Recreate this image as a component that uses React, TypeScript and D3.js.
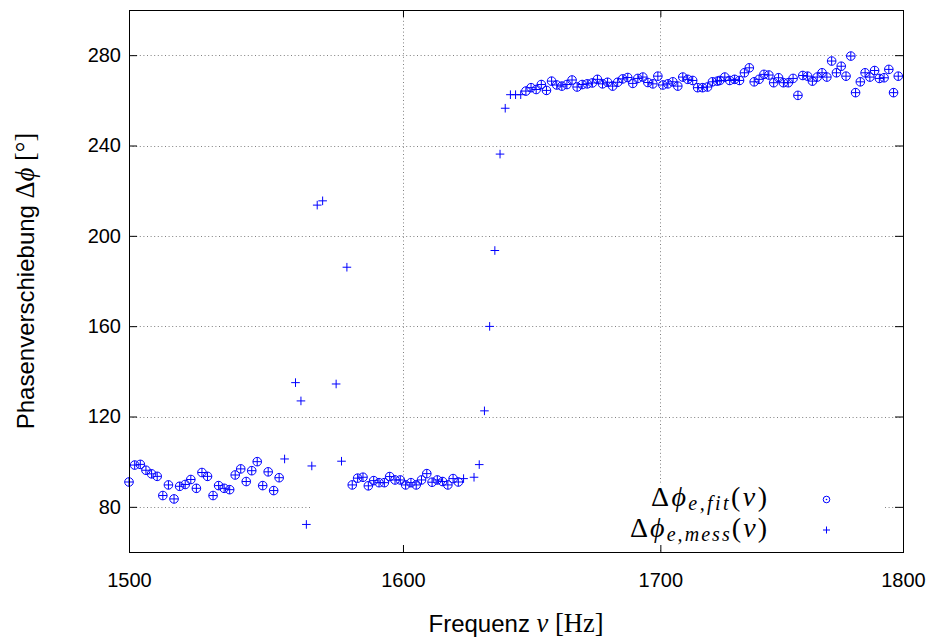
import React, { useEffect, useRef } from "react";
import * as d3 from "d3";

const W = 931;
const H = 641;
const plotLeft = 129;
const plotRight = 903;
const plotTop = 10;
const plotBottom = 552;

const xDomain = [1500, 1800];
const yDomain = [60, 300];
const xTicks = [1500, 1600, 1700, 1800];
const yTicks = [80, 120, 160, 200, 240, 280];

// 1500-1554 Hz: fit + measurement
const lowFreq = [1500, 1502, 1504, 1506, 1508, 1510, 1512, 1514, 1516, 1518, 1520, 1522, 1524, 1526,
  1528, 1530, 1532, 1534, 1536, 1538, 1540, 1542, 1544, 1546, 1548, 1550, 1552, 1554];
const lowPhase = [91.0, 98.5, 98.8, 96.2, 94.6, 93.5, 85.0, 89.7, 83.5, 89.1, 89.9, 92.1, 88.2, 95.2,
  93.5, 85.0, 89.4, 88.2, 87.6, 94.1, 96.8, 91.2, 96.0, 100.0, 89.4, 95.5, 87.2, 92.9];

// measurement only (resonance region, scattered)
const gapFreq = [1556, 1560, 1562, 1564, 1566, 1568, 1570, 1575, 1577, 1579];
const gapPhase = [101.2, 135.0, 126.9, 72.2, 98.1, 213.6, 215.5, 134.4, 100.2, 186.1];

// 1581-1621 Hz: fit + measurement
const midFreq = [1581, 1583, 1585, 1587, 1589, 1591, 1593, 1595, 1597, 1599, 1601, 1603, 1605, 1607,
  1609, 1611, 1613, 1615, 1617, 1619, 1621];
const midPhase = [89.7, 92.7, 93.1, 89.3, 91.6, 90.7, 90.7, 93.4, 91.9, 91.9, 89.7, 90.7, 89.7, 91.9,
  94.7, 90.9, 91.9, 91.2, 89.7, 92.5, 91.0];

// measurement only (phase jump)
const riseFreq = [1623, 1627, 1629, 1631, 1633, 1635, 1637, 1639, 1641, 1643, 1645];
const risePhase = [92.5, 93.1, 98.7, 122.5, 159.9, 193.5, 236.2, 256.5, 262.5, 262.5, 262.5];

// 1647-1798 Hz: fit + measurement
const highFreq = [1647, 1649, 1651, 1653, 1655, 1657, 1659, 1661, 1663, 1665, 1667, 1669, 1671, 1673,
  1675, 1677, 1679, 1681, 1683, 1685, 1687, 1689, 1691, 1693, 1695, 1697, 1699, 1701, 1703, 1705,
  1707, 1709, 1711, 1713, 1715, 1717, 1719, 1721, 1723, 1724, 1726, 1728, 1730, 1732, 1734, 1736,
  1738, 1740, 1742, 1744, 1746, 1748, 1750, 1752, 1754, 1756, 1758, 1760, 1762, 1764, 1766, 1768,
  1770, 1772, 1774, 1776, 1778, 1780, 1782, 1784, 1786, 1788, 1790, 1792, 1794, 1796, 1798];
const highPhase = [264.1, 265.6, 264.8, 267.0, 264.4, 268.5, 266.8, 266.3, 267.0, 269.0, 265.9, 267.0,
  267.3, 267.7, 269.3, 267.3, 268.0, 266.3, 268.0, 269.5, 270.1, 267.5, 269.7, 270.3, 267.9, 267.3,
  270.7, 266.8, 267.3, 268.2, 266.3, 270.3, 269.3, 268.8, 265.6, 265.6, 265.9, 268.2, 268.5, 268.8,
  270.3, 268.8, 269.3, 268.8, 272.2, 274.4, 268.2, 269.3, 271.5, 271.2, 267.8, 270.0, 267.8, 267.8,
  269.7, 262.2, 271.0, 270.7, 268.5, 270.3, 272.2, 270.3, 277.4, 272.2, 275.1, 270.7, 279.6, 263.4,
  268.2, 272.2, 270.3, 273.2, 269.7, 270.0, 273.7, 263.4, 270.7];

const blue = "#0000ff";
const sans = "'Liberation Sans', Arial, sans-serif";
const serif = "'Liberation Serif', 'DejaVu Serif', serif";

export default function App() {
  const ref = useRef<SVGSVGElement>(null);

  useEffect(() => {
    const svg = d3.select(ref.current);
    svg.selectAll("*").remove();

    const x = d3.scaleLog().domain(xDomain).range([plotLeft, plotRight]);
    const y = d3.scaleLinear().domain(yDomain).range([plotBottom, plotTop]);

    const messFreq = [...lowFreq, ...gapFreq, ...midFreq, ...riseFreq, ...highFreq];
    const messPhase = [...lowPhase, ...gapPhase, ...midPhase, ...risePhase, ...highPhase];
    const fitFreq = [...lowFreq, ...midFreq, ...highFreq];
    const fitPhase = [...lowPhase, ...midPhase, ...highPhase];
    const mess = messFreq.map((f, i) => [f, messPhase[i]]);
    const fit = fitFreq.map((f, i) => [f, fitPhase[i]]);

    // grid
    const grid = svg.append("g")
      .attr("stroke", "#808080")
      .attr("stroke-width", 1)
      .attr("stroke-dasharray", "1,2.6");
    grid.selectAll("line.h").data(yTicks).join("line")
      .attr("x1", plotLeft).attr("x2", plotRight)
      .attr("y1", d => Math.round(y(d)) + 0.5).attr("y2", d => Math.round(y(d)) + 0.5);
    grid.selectAll("line.v").data(xTicks.slice(1, -1)).join("line")
      .attr("y1", plotTop).attr("y2", plotBottom)
      .attr("x1", d => Math.round(x(d)) + 0.5).attr("x2", d => Math.round(x(d)) + 0.5);

    // opaque key box
    svg.append("rect")
      .attr("x", 311).attr("y", 484).attr("width", 574).attr("height", 66)
      .attr("fill", "white");

    // points
    svg.append("g").selectAll("circle").data(fit).join("circle")
      .attr("cx", d => x(d[0])).attr("cy", d => y(d[1]))
      .attr("r", 4.3)
      .attr("fill", "none").attr("stroke", blue).attr("stroke-width", 1);
    svg.append("g").selectAll("path").data(mess).join("path")
      .attr("d", d => `M${x(d[0]) - 4.3},${y(d[1])}h8.6M${x(d[0])},${y(d[1]) - 4.3}v8.6`)
      .attr("stroke", blue).attr("stroke-width", 1);

    // axes with inward ticks on all four sides
    const styleAxis = (g: any) => {
      g.select(".domain").remove();
      g.selectAll("line").attr("stroke", "black");
      g.selectAll("text").attr("font-family", sans).attr("font-size", 20).attr("fill", "black");
    };
    svg.append("g").attr("transform", `translate(0,${plotBottom})`)
      .call(d3.axisBottom(x).tickValues(xTicks).tickFormat(d3.format("d"))
        .tickSizeInner(-7).tickSizeOuter(0).tickPadding(21))
      .call(styleAxis);
    svg.append("g").attr("transform", `translate(0,${plotTop})`)
      .call(d3.axisTop(x).tickValues(xTicks).tickFormat(() => "")
        .tickSizeInner(-7).tickSizeOuter(0))
      .call(styleAxis);
    svg.append("g").attr("transform", `translate(${plotLeft},0)`)
      .call(d3.axisLeft(y).tickValues(yTicks).tickSizeInner(-8).tickSizeOuter(0).tickPadding(8))
      .call(styleAxis);
    svg.append("g").attr("transform", `translate(${plotRight},0)`)
      .call(d3.axisRight(y).tickValues(yTicks).tickFormat(() => "")
        .tickSizeInner(-8).tickSizeOuter(0))
      .call(styleAxis);

    svg.append("rect")
      .attr("x", plotLeft + 0.5).attr("y", plotTop + 0.5)
      .attr("width", plotRight - plotLeft).attr("height", plotBottom - plotTop)
      .attr("fill", "none").attr("stroke", "black").attr("stroke-width", 1);

    // legend
    const legend = [
      { sub: "e,fit", x: 651, y: 506, len: 116 },
      { sub: "e,mess", x: 630, y: 537, len: 137 },
    ];
    legend.forEach((l, i) => {
      const t = svg.append("text")
        .attr("x", l.x).attr("y", l.y)
        .attr("font-family", serif).attr("font-size", 28)
        .attr("textLength", l.len).attr("lengthAdjust", "spacing");
      t.append("tspan").text("Δ");
      t.append("tspan").attr("font-style", "italic").text("ϕ");
      t.append("tspan").attr("font-style", "italic").attr("font-size", 20).attr("dy", 4).text(l.sub);
      t.append("tspan").attr("dy", -4).text("(");
      t.append("tspan").attr("font-style", "italic").text("ν");
      t.append("tspan").text(")");
      if (i === 0) {
        svg.append("circle").attr("cx", 826.5).attr("cy", l.y - 6.5).attr("r", 3.3)
          .attr("fill", "none").attr("stroke", blue).attr("stroke-width", 1);
        svg.append("circle").attr("cx", 826.5).attr("cy", l.y - 6.5).attr("r", 0.8).attr("fill", blue);
      } else {
        svg.append("path")
          .attr("d", `M823,${l.y - 7}h7M826.5,${l.y - 10.5}v7`)
          .attr("stroke", blue).attr("stroke-width", 1);
      }
    });

    // axis labels
    const yl = svg.append("text")
      .attr("transform", `translate(34,${(plotTop + plotBottom) / 2}) rotate(-90)`)
      .attr("text-anchor", "middle").attr("font-family", sans).attr("font-size", 24);
    yl.append("tspan").text("Phasenverschiebung ");
    yl.append("tspan").attr("font-family", serif).attr("font-size", 26.5).text("Δ");
    yl.append("tspan").attr("font-family", serif).attr("font-size", 26.5).attr("font-style", "italic").text("ϕ");
    yl.append("tspan").attr("font-family", serif).attr("font-size", 26.5).text(" [°]");

    const xl = svg.append("text")
      .attr("x", (plotLeft + plotRight) / 2).attr("y", 632)
      .attr("text-anchor", "middle").attr("font-family", sans).attr("font-size", 24);
    xl.append("tspan").text("Frequenz ");
    xl.append("tspan").attr("font-family", serif).attr("font-size", 26.5).attr("font-style", "italic").text("ν");
    xl.append("tspan").attr("font-family", serif).attr("font-size", 26.5).text(" [Hz]");
  }, []);

  return (
    <svg ref={ref} width={W} height={H}
      style={{ position: "absolute", left: 0, top: 0, background: "white" }} />
  );
}
